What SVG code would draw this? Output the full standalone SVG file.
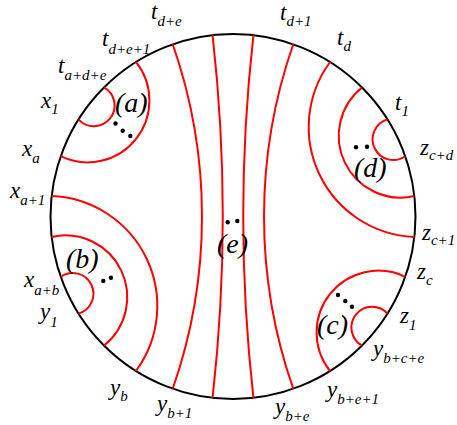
<svg xmlns="http://www.w3.org/2000/svg" width="457" height="425" viewBox="0 0 457 425">
<style>
.bd{fill:none;stroke:#000;stroke-width:2}
.arc{fill:none;stroke:#f00;stroke-width:2}
.lb{font-family:"Liberation Serif","Times New Roman",serif;font-style:italic;font-size:23px;fill:#000}
.sb{font-size:15px}
.big{font-family:"Liberation Serif","Times New Roman",serif;font-style:italic;font-size:28px;fill:#000}
.dot{fill:#000}
</style>
<rect width="457" height="425" fill="#fff"/>
<circle id="boundary" class="bd" cx="233" cy="216.5" r="182.5"/>
<g id="connectors">
<path class="arc" d="M172.72,44.24 A521.5,521.5 0 0 1 172.72,388.76"/>
<path class="arc" d="M212.57,35.15 A1619.8,1619.8 0 0 1 212.57,397.85"/>
<path class="arc" d="M253.43,397.85 A1619.8,1619.8 0 0 1 253.43,35.15"/>
<path class="arc" d="M293.28,388.76 A521.5,521.5 0 0 1 293.28,44.24"/>
<path class="arc" d="M135.90,61.97 A61.82,61.82 0 0 1 60.74,156.22"/>
<path class="arc" d="M103.95,87.45 A20.72,20.72 0 1 1 78.47,119.40"/>
<path class="arc" d="M51.65,196.07 A109.9,109.9 0 0 1 135.90,371.03"/>
<path class="arc" d="M51.65,236.93 A61.82,61.82 0 0 1 103.95,345.55"/>
<path class="arc" d="M60.74,276.78 A20.72,20.72 0 1 1 78.47,313.60"/>
<path class="arc" d="M330.10,371.03 A61.82,61.82 0 0 1 405.26,276.78"/>
<path class="arc" d="M362.05,345.55 A20.72,20.72 0 1 1 387.53,313.60"/>
<path class="arc" d="M414.35,236.93 A109.9,109.9 0 0 1 330.10,61.97"/>
<path class="arc" d="M414.35,196.07 A61.82,61.82 0 0 1 362.05,87.45"/>
<path class="arc" d="M405.26,156.22 A20.72,20.72 0 1 1 387.53,119.40"/>
</g>
<g id="region-a">
<text class="big" x="115" y="112">(a)</text>
<circle class="dot" cx="115.5" cy="123.5" r="2.2"/><circle class="dot" cx="122.7" cy="130.7" r="2.2"/><circle class="dot" cx="130.3" cy="136" r="2.2"/>
</g>
<g id="region-b">
<text class="big" x="66" y="268">(b)</text>
<circle class="dot" cx="103.3" cy="281" r="2.2"/><circle class="dot" cx="111" cy="277.7" r="2.2"/>
</g>
<g id="region-c">
<text class="big" x="317" y="334">(c)</text>
<circle class="dot" cx="338" cy="295" r="2.2"/><circle class="dot" cx="345.3" cy="301" r="2.2"/><circle class="dot" cx="352" cy="306.7" r="2.2"/>
</g>
<g id="region-d">
<text class="big" x="354" y="177">(d)</text>
<circle class="dot" cx="356" cy="147.3" r="2.2"/><circle class="dot" cx="367" cy="146.7" r="2.2"/>
</g>
<g id="region-e">
<text class="big" x="217" y="253">(e)</text>
<circle class="dot" cx="227.7" cy="222.3" r="2.2"/><circle class="dot" cx="237.3" cy="221" r="2.2"/>
</g>
<g id="labels">
<text class="lb" x="151" y="19">t<tspan class="sb" dy="7">d+e</tspan></text>
<text class="lb" x="280" y="20">t<tspan class="sb" dy="6">d+1</tspan></text>
<text class="lb" x="102" y="46">t<tspan class="sb" dy="8">d+e+1</tspan></text>
<text class="lb" x="337" y="45">t<tspan class="sb" dy="6">d</tspan></text>
<text class="lb" x="58" y="73">t<tspan class="sb" dy="7">a+d+e</tspan></text>
<text class="lb" x="395" y="110">t<tspan class="sb" dy="6">1</tspan></text>
<text class="lb" x="41" y="108">x<tspan class="sb" dy="6">1</tspan></text>
<text class="lb" x="22" y="156">x<tspan class="sb" dy="7">a</tspan></text>
<text class="lb" x="10" y="198">x<tspan class="sb" dy="7">a+1</tspan></text>
<text class="lb" x="24" y="287">x<tspan class="sb" dy="8">a+b</tspan></text>
<text class="lb" x="40" y="319">y<tspan class="sb" dy="8">1</tspan></text>
<text class="lb" x="110" y="395">y<tspan class="sb" dy="6">b</tspan></text>
<text class="lb" x="157" y="411">y<tspan class="sb" dy="7">b+1</tspan></text>
<text class="lb" x="275" y="414">y<tspan class="sb" dy="7">b+e</tspan></text>
<text class="lb" x="327" y="397">y<tspan class="sb" dy="7">b+e+1</tspan></text>
<text class="lb" x="373" y="356">y<tspan class="sb" dy="7">b+c+e</tspan></text>
<text class="lb" x="400" y="323">z<tspan class="sb" dy="7">1</tspan></text>
<text class="lb" x="417" y="279">z<tspan class="sb" dy="6">c</tspan></text>
<text class="lb" x="422" y="240">z<tspan class="sb" dy="5">c+1</tspan></text>
<text class="lb" x="420" y="155">z<tspan class="sb" dy="5">c+d</tspan></text>
</g>
</svg>
